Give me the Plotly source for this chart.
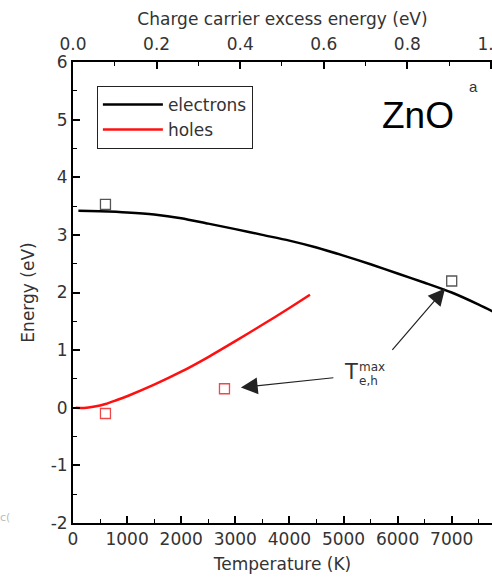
import plotly.graph_objects as go

# Energy of hot electrons / holes in ZnO versus carrier temperature
T_electrons = [100, 500, 1000, 1500, 2000, 2500, 3000, 3500, 4000, 4500,
               5000, 5500, 6000, 6500, 7000, 7500, 8000]
E_electrons = [3.42, 3.41, 3.39, 3.355, 3.29, 3.195, 3.10, 3.00, 2.90, 2.78,
               2.64, 2.49, 2.33, 2.17, 2.00, 1.79, 1.56]

T_holes = [50, 200, 400, 600, 800, 1000, 1500, 2000, 2500, 3000, 3500, 4000, 4380]
E_holes = [0.0, -0.005, 0.02, 0.065, 0.13, 0.20, 0.40, 0.625, 0.88, 1.155, 1.44, 1.73, 1.96]

# Maximum carrier temperatures (square markers)
T_max_e = [600, 7000]
E_max_e = [3.53, 2.20]
T_max_h = [600, 2800]
E_max_h = [-0.10, 0.33]

y_ticks = [-2, -1, 0, 1, 2, 3, 4, 5, 6]
y_labels = ["-2", "-1", "0", "1", "2", "3", "4", "5", "6"]

T_range = [0, 7745]
excess_range = [0, 1.0025]

FONT = "DejaVu Sans"
TXT = "#333333"
FS = 17

fig = go.Figure()
fig.add_trace(go.Scatter(x=T_electrons, y=E_electrons, mode="lines", name="electrons",
                         line=dict(color="black", width=2.5, shape="spline", smoothing=0.8)))
fig.add_trace(go.Scatter(x=T_holes, y=E_holes, mode="lines", name="holes",
                         line=dict(color="#ff1010", width=2.5, shape="spline", smoothing=0.8)))
fig.add_trace(go.Scatter(x=T_max_e, y=E_max_e, mode="markers", showlegend=False,
                         marker=dict(symbol="square-open", size=10, color="#555555",
                                     line=dict(width=1.3))))
fig.add_trace(go.Scatter(x=T_max_h, y=E_max_h, mode="markers", showlegend=False,
                         marker=dict(symbol="square-open", size=10, color="#f04848",
                                     line=dict(width=1.3))))
# carrier-excess-energy axis on top
fig.add_trace(go.Scatter(x=excess_range, y=[None, None], xaxis="x2", mode="lines",
                         showlegend=False, hoverinfo="skip"))

axis_common = dict(showline=True, linecolor="black", linewidth=2, showgrid=False,
                   zeroline=False, ticks="inside", ticklen=7, tickwidth=1.6,
                   tickcolor="black", automargin=False,
                   tickfont=dict(family=FONT, size=FS, color=TXT))

fig.update_layout(
    width=492, height=577,
    margin=dict(l=73, r=0, t=62, b=54),
    paper_bgcolor="white", plot_bgcolor="white",
    font=dict(family=FONT, size=FS, color=TXT),
    xaxis=dict(range=T_range, dtick=1000, ticklabeloverflow="allow",
               minor=dict(dtick=500, ticks="inside", ticklen=4, tickcolor="black", tickwidth=1.4),
               title=dict(text="Temperature (K)", font=dict(family=FONT, size=FS, color=TXT),
                          standoff=10),
               **axis_common),
    xaxis2=dict(range=excess_range, overlaying="x", side="top", dtick=0.2, tickformat=".1f",
                ticklabeloverflow="allow", ticklabelstandoff=3,
                minor=dict(dtick=0.1, ticks="inside", ticklen=4, tickcolor="black", tickwidth=1.4),
                title=dict(text="Charge carrier excess energy (eV)",
                           font=dict(family=FONT, size=FS, color=TXT), standoff=4),
                **axis_common),
    yaxis=dict(range=[-2, 6], tickvals=y_ticks, ticktext=y_labels,
               minor=dict(dtick=0.5, ticks="inside", ticklen=4, tickcolor="black", tickwidth=1.4),
               title=dict(text="Energy (eV)", font=dict(family=FONT, size=FS, color=TXT),
                          standoff=12),
               **axis_common),
    legend=dict(x=0.057, y=0.948, xanchor="left", yanchor="top",
                bordercolor="#222222", borderwidth=1, bgcolor="white",
                font=dict(family=FONT, size=FS, color=TXT), itemwidth=60,
                tracegroupgap=4),
    showlegend=True,
)

# arrows pointing at the maximum temperatures
fig.add_annotation(x=6877, y=2.07, ax=-54, ay=63, text="", showarrow=True,
                   arrowhead=2, arrowsize=2.8, arrowwidth=1.2, arrowcolor="#222222", standoff=0)
fig.add_annotation(x=3103, y=0.35, ax=94, ay=-10, text="", showarrow=True,
                   arrowhead=2, arrowsize=2.8, arrowwidth=1.2, arrowcolor="#222222", standoff=0)

# T_{e,h}^{max} label
fig.add_annotation(x=5140, y=0.62, text="T", showarrow=False, xanchor="center", yanchor="middle",
                   font=dict(family=FONT, size=21, color=TXT))
fig.add_annotation(x=5251, y=0.705, text="max", showarrow=False, xanchor="left", yanchor="middle",
                   font=dict(family=FONT, size=12, color=TXT))
fig.add_annotation(x=5251, y=0.46, text="e,h", showarrow=False, xanchor="left", yanchor="middle",
                   font=dict(family=FONT, size=12, color=TXT))

# material label and panel letter
fig.add_annotation(x=6382, y=5.08, text="ZnO", showarrow=False, xanchor="center", yanchor="middle",
                   font=dict(family="Liberation Sans", size=37, color="black"))
fig.add_annotation(x=7394, y=5.57, text="a", showarrow=False, xanchor="center", yanchor="middle",
                   font=dict(family="Liberation Sans", size=15, color="#333333"))

fig.add_annotation(x=-0.162, y=0.013, xref="paper", yref="paper", text="c(", showarrow=False,
                   xanchor="center", yanchor="middle", font=dict(family=FONT, size=11, color="#bbbbbb"))

fig.write_html("out.html")
